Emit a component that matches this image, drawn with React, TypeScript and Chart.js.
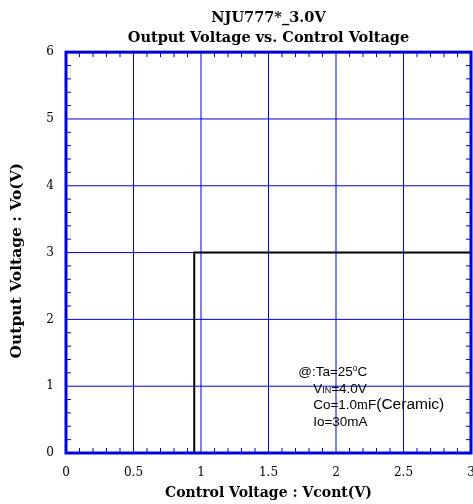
import React, { useEffect, useRef } from "react";
import { Chart, registerables } from "chart.js";

Chart.register(...registerables);

const titleLines = ["NJU777*_3.0V", "Output Voltage vs. Control Voltage"];
const xTitle = "Control Voltage : Vcont(V)";
const yTitle = "Output Voltage : Vo(V)";
const stepX = [0.95, 0.95, 3.0];
const stepY = [0.0, 3.0, 3.0];
const xRange = [0, 3];
const yRange = [0, 6];

const BLUE = "#0000dd";

const framePlugin = {
  id: "frameTicks",
  beforeDatasetsDraw(chart: any) {
    const { ctx, chartArea: a, scales } = chart;
    ctx.save();
    ctx.lineWidth = 1;
    ctx.strokeStyle = BLUE;
    ctx.beginPath();
    scales.x.ticks.forEach((t: any) => {
      const px = scales.x.getPixelForValue(t.value);
      ctx.moveTo(px, a.top);
      ctx.lineTo(px, a.bottom);
    });
    scales.y.ticks.forEach((t: any) => {
      const py = scales.y.getPixelForValue(t.value);
      ctx.moveTo(a.left, py);
      ctx.lineTo(a.right, py);
    });
    ctx.stroke();
    ctx.restore();
  },
  afterDatasetsDraw(chart: any) {
    const { ctx, chartArea: a, scales } = chart;
    const xs = scales.x;
    const ys = scales.y;
    ctx.save();
    ctx.strokeStyle = BLUE;
    ctx.lineWidth = 1;
    ctx.beginPath();
    for (let i = 1; i < 30; i++) {
      if (i % 5 === 0) continue;
      const px = xs.getPixelForValue(i / 10);
      ctx.moveTo(px, a.bottom);
      ctx.lineTo(px, a.bottom - 5);
      ctx.moveTo(px, a.top);
      ctx.lineTo(px, a.top + 5);
    }
    for (let i = 1; i < 30; i++) {
      if (i % 5 === 0) continue;
      const py = ys.getPixelForValue(i / 5);
      ctx.moveTo(a.left, py);
      ctx.lineTo(a.left + 5, py);
      ctx.moveTo(a.right, py);
      ctx.lineTo(a.right - 5, py);
    }
    ctx.stroke();
    ctx.lineWidth = 3;
    ctx.strokeRect(a.left, a.top, a.right - a.left, a.bottom - a.top);
    ctx.restore();

    // annotation
    const x0 = xs.getPixelForValue(1.72);
    const y0 = ys.getPixelForValue(1.21);
    ctx.save();
    ctx.fillStyle = "#000";
    ctx.textBaseline = "alphabetic";
    const fs = 13.5;
    const sans = (s: number) => `${s}px "Liberation Sans", Arial, sans-serif`;
    const serif = (s: number) => `${s}px "Liberation Serif", "Times New Roman", serif`;
    let x = x0;
    let b = y0 + 4;
    ctx.font = sans(fs);
    ctx.fillText("@:Ta=25", x, b);
    x += ctx.measureText("@:Ta=25").width;
    ctx.font = sans(8.5);
    ctx.fillText("o", x, b - 5);
    x += ctx.measureText("o").width;
    ctx.font = sans(fs);
    ctx.fillText("C", x, b);

    const xi = x0 + 15;
    b += 16.5;
    x = xi;
    ctx.font = sans(fs);
    ctx.fillText("V", x, b);
    x += ctx.measureText("V").width;
    ctx.font = sans(9);
    ctx.fillText("IN", x, b);
    x += ctx.measureText("IN").width;
    ctx.font = sans(fs);
    ctx.fillText("=4.0V", x, b);

    b += 16.5;
    x = xi;
    ctx.font = sans(fs);
    ctx.fillText("Co=1.0", x, b);
    x += ctx.measureText("Co=1.0").width;
    ctx.font = serif(14);
    ctx.fillText("m", x, b);
    x += ctx.measureText("m").width;
    ctx.font = sans(fs);
    ctx.fillText("F", x, b);
    x += ctx.measureText("F").width;
    ctx.font = sans(15.5);
    ctx.fillText("(Ceramic)", x, b);

    b += 16.5;
    x = xi;
    ctx.font = sans(fs);
    ctx.fillText("Io=30mA", x, b);
    ctx.restore();
  },
};

export default function App() {
  const ref = useRef<HTMLCanvasElement>(null);
  useEffect(() => {
    if (!ref.current) return;
    const chart = new Chart(ref.current, {
      type: "scatter",
      data: {
        datasets: [
          {
            data: stepX.map((v, i) => ({ x: v, y: stepY[i] })),
            showLine: true,
            borderColor: "#000",
            borderWidth: 2,
            pointRadius: 0,
            fill: false,
          },
        ],
      },
      options: {
        animation: false,
        responsive: false,
        layout: { padding: { left: 0, right: 2, top: 0, bottom: 0 } },
        plugins: {
          legend: { display: false },
          tooltip: { enabled: false },
          title: {
            display: true,
            fullSize: false,
            text: titleLines,
            color: "#000",
            font: { family: '"DejaVu Serif", serif', size: 14.5, weight: "bold", lineHeight: 1.35 },
            padding: { top: 8.5, bottom: 4.5 },
          },
        },
        scales: {
          x: {
            type: "linear",
            min: xRange[0],
            max: xRange[1],
            afterFit: (s: any) => {
              s.height = 51;
              s.paddingLeft = 0;
              s.paddingRight = 0;
            },
            ticks: {
              stepSize: 0.5,
              color: "#000",
              padding: 13,
              font: { family: '"DejaVu Serif", serif', size: 12 },
              callback: (v: any) => String(v),
            },
            grid: { display: false, drawTicks: false },
            border: { display: false },
            title: {
              display: true,
              text: xTitle,
              color: "#000",
              font: { family: '"DejaVu Serif", serif', size: 14, weight: "bold" },
              padding: { top: 1, bottom: 2 },
            },
          },
          y: {
            type: "linear",
            min: yRange[0],
            max: yRange[1],
            afterFit: (s: any) => {
              s.width = 66;
              s.paddingTop = 0;
              s.paddingBottom = 0;
            },
            ticks: {
              stepSize: 1,
              color: "#000",
              padding: 12,
              font: { family: '"DejaVu Serif", serif', size: 12 },
              callback: (v: any) => String(v),
            },
            grid: { display: false, drawTicks: false },
            border: { display: false },
            title: {
              display: true,
              text: yTitle + "   ",
              color: "#000",
              font: { family: '"DejaVu Serif", serif', size: 15.5, weight: "bold" },
              padding: { top: 8, bottom: 4 },
            },
          },
        },
      },
      plugins: [framePlugin],
    });
    return () => chart.destroy();
  }, []);
  return (
    <div style={{ position: "fixed", left: 0, top: 0, width: 473, height: 504, background: "#fff" }}>
      <canvas ref={ref} width={473} height={504} />
    </div>
  );
}
